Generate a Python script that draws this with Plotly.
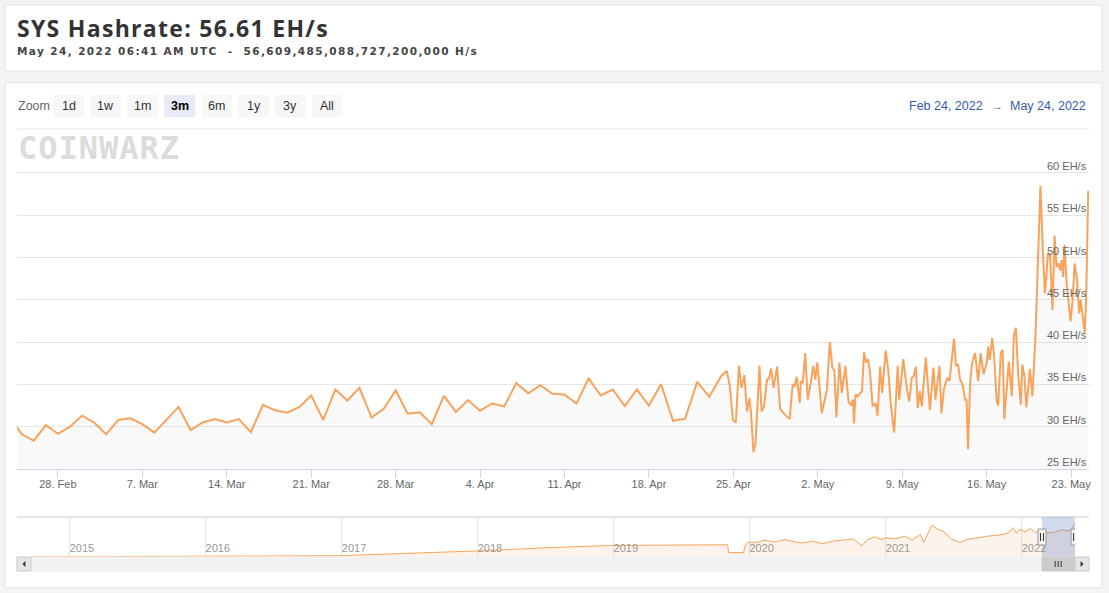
import pandas as pd
import plotly.graph_objects as go

W, H = 1109, 593

# daily hashrate (EH/s), Feb 24 - Apr 23 2022
daily_dates = pd.date_range("2022-02-24", "2022-04-23", freq="D").strftime("%Y-%m-%d").tolist()
daily_values = [31.2, 29.1, 28.35, 30.2, 29.15,
                30.0, 31.3, 30.5, 29.1, 30.8, 31.0, 30.3, 29.3, 30.85, 32.35, 29.6, 30.5, 30.9, 30.5,
                30.9, 29.35, 32.6, 31.95, 31.65, 32.3, 33.7, 30.8, 34.4, 33.1, 34.6, 31.1, 32.1, 34.3,
                31.55, 31.7, 30.3,
                33.65, 31.75, 33.15, 31.9, 32.75, 32.4, 35.15, 33.95, 34.9, 33.9, 33.8, 32.75, 35.7,
                33.7, 34.4, 32.45, 34.4, 32.5, 35.05, 30.7, 30.95, 35.3, 33.55]

# intraday hashrate (EH/s), Apr 24 - May 24 2022
intraday_dates = [
    "2022-04-24 00:00", "2022-04-24 11:00", "2022-04-24 17:00", "2022-04-24 23:00",
    "2022-04-25 05:00", "2022-04-25 11:00", "2022-04-25 16:00", "2022-04-25 22:00",
    "2022-04-26 03:00", "2022-04-26 08:00", "2022-04-26 11:00", "2022-04-26 16:00", "2022-04-26 20:00",
    "2022-04-27 04:00", "2022-04-27 08:00", "2022-04-27 13:00", "2022-04-27 19:00", "2022-04-27 23:00",
    "2022-04-28 03:00", "2022-04-28 08:00", "2022-04-28 15:00", "2022-04-28 21:00",
    "2022-04-29 07:00", "2022-04-29 16:00", "2022-04-29 22:00",
    "2022-04-30 02:00", "2022-04-30 06:00", "2022-04-30 12:00", "2022-04-30 14:00", "2022-04-30 18:00",
    "2022-04-30 23:00",
    "2022-05-01 04:00", "2022-05-01 10:00", "2022-05-01 15:00", "2022-05-01 19:00", "2022-05-01 23:00",
    "2022-05-02 08:00", "2022-05-02 18:00",
    "2022-05-03 00:00", "2022-05-03 05:00", "2022-05-03 09:00", "2022-05-03 13:00", "2022-05-03 19:00",
    "2022-05-04 00:00", "2022-05-04 07:00", "2022-05-04 13:00", "2022-05-04 18:00", "2022-05-04 22:00",
    "2022-05-05 00:00", "2022-05-05 03:00", "2022-05-05 07:00", "2022-05-05 16:00", "2022-05-05 20:00",
    "2022-05-06 00:00", "2022-05-06 04:00", "2022-05-06 08:00", "2022-05-06 13:00", "2022-05-06 19:00",
    "2022-05-06 23:00",
    "2022-05-07 04:00", "2022-05-07 08:00", "2022-05-07 15:00", "2022-05-07 20:00",
    "2022-05-08 01:00", "2022-05-08 08:00", "2022-05-08 15:00", "2022-05-08 18:00",
    "2022-05-09 02:00", "2022-05-09 09:00", "2022-05-09 14:00", "2022-05-09 19:00", "2022-05-09 23:00",
    "2022-05-10 03:00", "2022-05-10 07:00", "2022-05-10 11:00", "2022-05-10 15:00", "2022-05-10 23:00",
    "2022-05-11 07:00", "2022-05-11 14:00", "2022-05-11 18:00",
    "2022-05-12 02:00", "2022-05-12 06:00", "2022-05-12 11:00", "2022-05-12 18:00", "2022-05-12 22:00",
    "2022-05-13 02:00", "2022-05-13 07:00", "2022-05-13 11:00", "2022-05-13 15:00", "2022-05-13 19:00",
    "2022-05-14 00:00", "2022-05-14 05:00", "2022-05-14 08:00", "2022-05-14 11:00", "2022-05-14 15:00",
    "2022-05-14 19:00",
    "2022-05-15 01:00", "2022-05-15 07:00", "2022-05-15 12:00", "2022-05-15 18:00",
    "2022-05-16 00:00", "2022-05-16 03:00", "2022-05-16 06:00", "2022-05-16 11:00", "2022-05-16 15:00",
    "2022-05-16 20:00", "2022-05-16 23:00",
    "2022-05-17 04:00", "2022-05-17 08:00", "2022-05-17 11:00", "2022-05-17 16:00", "2022-05-17 20:00",
    "2022-05-18 02:00", "2022-05-18 06:00", "2022-05-18 10:00", "2022-05-18 15:00", "2022-05-18 20:00",
    "2022-05-18 23:00",
    "2022-05-19 03:00", "2022-05-19 07:00", "2022-05-19 14:00", "2022-05-19 19:00",
    "2022-05-20 01:00", "2022-05-20 06:00", "2022-05-20 11:00", "2022-05-20 16:00", "2022-05-20 20:00",
    "2022-05-21 02:00", "2022-05-21 06:00", "2022-05-21 11:00", "2022-05-21 15:00", "2022-05-21 19:00",
    "2022-05-21 23:00",
    "2022-05-22 02:00", "2022-05-22 05:00", "2022-05-22 08:00", "2022-05-22 11:00", "2022-05-22 15:00",
    "2022-05-22 19:00", "2022-05-22 23:00",
    "2022-05-23 03:00", "2022-05-23 07:00", "2022-05-23 12:00", "2022-05-23 16:00", "2022-05-23 19:00",
    "2022-05-23 23:00",
    "2022-05-24 03:00", "2022-05-24 06:00", "2022-05-24 10:00",
]
intraday_values = [
    36.0, 36.6, 34.8, 30.8,
    30.5, 37.2, 34.6, 36.1,
    31.8, 33.4, 31.7, 27.0, 28.0,
    37.2, 31.8, 32.4, 35.6, 35.7,
    36.9, 34.6, 37.1, 32.1,
    31.4, 30.9, 35.0,
    34.8, 35.9, 32.8, 35.3, 35.2, 38.7,
    33.2, 35.2, 37.2, 35.6, 37.6,
    31.6, 34.4,
    40.0, 37.0, 36.6, 31.1, 37.6,
    34.0, 37.2, 33.0, 32.5, 33.2,
    30.4, 33.8, 33.6, 34.2, 38.8,
    37.6, 38.0, 36.4, 32.4, 32.8, 31.3,
    37.1, 34.0, 39.0, 36.8,
    32.8, 29.3, 37.2, 33.2,
    38.0, 34.6, 33.0, 35.8, 36.0,
    37.1, 32.2, 34.2, 32.4, 38.2,
    32.0, 37.0, 33.2,
    37.2, 31.6, 34.5, 35.8, 35.4,
    37.4, 40.4, 37.2, 37.4, 35.6,
    35.0, 33.2, 33.2, 27.35, 35.2, 37.55,
    38.7, 35.4, 38.7, 36.2,
    37.55, 39.5, 37.9, 40.5, 38.3, 33.0, 32.5,
    38.7, 39.1, 30.9, 34.8, 37.7,
    33.6, 40.7, 41.7, 36.0, 32.6, 37.35,
    36.0, 32.3, 36.8, 33.6,
    40.7, 48.5, 58.5, 50.5, 45.8,
    50.5, 50.3, 43.8, 52.6, 48.9, 49.3,
    48.5, 49.7, 47.7, 51.5, 47.0, 45.0, 42.45,
    45.0, 49.3, 47.35, 43.4, 45.0, 43.0,
    41.1, 45.4, 57.9,
]

# navigator history (scaled as drawn in the navigator strip)
nav_dates = ["2014-09-19", "2016-12-25", "2018-01-01", "2018-07-17", "2019-01-01", "2019-11-03",
             "2019-11-06", "2019-12-16", "2019-12-21", "2019-12-29", "2020-01-21", "2020-02-09",
             "2020-03-08", "2020-04-05", "2020-04-23", "2020-05-21", "2020-06-18", "2020-07-15",
             "2020-08-12", "2020-09-09", "2020-10-06", "2020-10-29", "2020-11-12", "2020-12-05",
             "2020-12-19", "2021-01-01", "2021-01-25", "2021-02-22", "2021-03-12", "2021-04-04",
             "2021-04-13", "2021-04-27", "2021-05-06", "2021-05-20", "2021-06-03", "2021-06-26",
             "2021-07-19", "2021-08-07", "2021-09-03", "2021-10-01", "2021-10-28", "2021-11-25",
             "2021-12-09", "2021-12-18", "2021-12-27", "2022-01-10", "2022-01-24", "2022-02-07",
             "2022-02-16", "2022-02-25", "2022-03-25", "2022-04-21", "2022-05-10", "2022-05-24 10:00"]
nav_values = [0.3, 1.9, 9.1, 14.2, 17.4, 18.3,
              6.6, 6.6, 18.3, 22.0, 22.0, 25.2,
              22.5, 26.2, 23.6, 21.0, 23.6, 20.0,
              23.6, 25.2, 27.2, 16.9, 26.2, 30.3,
              26.2, 28.8, 27.2, 31.3, 25.2, 33.9,
              22.0, 39.1, 47.9, 41.7, 39.1, 27.2,
              22.0, 26.2, 28.8, 31.3, 32.4, 35.5,
              44.2, 35.5, 41.7, 37.5, 42.7, 36.5,
              39.1, 36.5, 36.5, 40.6, 39.1, 49.4]

y_ticks = [25, 30, 35, 40, 45, 50, 55, 60]
zoom_buttons = ["1d", "1w", "1m", "3m", "6m", "1y", "3y", "All"]
selected_button = "3m"
view_start, view_end = "2022-02-24 14:35", "2022-05-24 11:40"
nav_start = "2014-09-19"

LINE = "#f7a35c"
FONT = "Liberation Sans, Arial, sans-serif"


def px(x):
    return x / W


def py(y):
    return 1 - y / H


fig = go.Figure()
fig.add_trace(go.Scatter(
    x=daily_dates + intraday_dates, y=daily_values + intraday_values,
    mode="lines", line=dict(color=LINE, width=2), fill="tozeroy",
    fillcolor="rgba(0,0,0,0.025)", xaxis="x", yaxis="y", hoverinfo="skip"))
fig.add_trace(go.Scatter(
    x=nav_dates, y=nav_values, mode="lines", line=dict(color=LINE, width=1),
    fill="tozeroy", fillcolor="rgba(247,163,92,0.13)", xaxis="x2", yaxis="y2", hoverinfo="skip"))

# y axis goes a little past 60 so the top grid line stays visible
y_top = 60.6
fig.update_layout(
    width=W, height=H, margin=dict(l=0, r=0, t=0, b=0),
    paper_bgcolor="#f4f4f4", plot_bgcolor="rgba(0,0,0,0)",
    showlegend=False, hovermode=False, font=dict(family=FONT, color="#666666"),
    xaxis=dict(domain=[px(17), px(1091)], anchor="y", type="date",
               range=[view_start, view_end], tick0="2022-02-28", dtick=7 * 86400000,
               tickformat="%-d. %b", ticks="outside", ticklen=8, tickcolor="#ccd6eb",
               ticklabelstandoff=-3,
               showline=True, linecolor="#ccd6eb", showgrid=False, zeroline=False,
               tickfont=dict(size=11, color="#666666")),
    yaxis=dict(domain=[py(469), py(173 - (y_top - 60) * 8.46)], anchor="x", side="right",
               range=[25, y_top], tickvals=y_ticks, showticklabels=False,
               showgrid=True, gridcolor="#e6e6e6", zeroline=False, showline=False),
    xaxis2=dict(domain=[px(31), px(1077)], anchor="y2", type="date",
                range=[nav_start, "2022-05-24 10:00"], tick0="2015-01-01", dtick="M12",
                tickformat="%Y", ticklabelposition="inside right", ticks="",
                ticklabelstandoff=-3,
                showgrid=True, gridcolor="#e6e6e6", showline=False, zeroline=False,
                tickfont=dict(size=11, color="#999999")),
    yaxis2=dict(domain=[py(557), py(517)], anchor="x2", range=[0, 60], visible=False),
)

shapes = []
# cards
for y0, y1 in [(5, 71), (83, 588)]:
    shapes.append(dict(type="rect", xref="paper", yref="paper", x0=px(5), x1=px(1104),
                       y0=py(y1), y1=py(y0), fillcolor="white", line=dict(color="#e2e2e2", width=1),
                       layer="below"))
# separator under range selector
shapes.append(dict(type="line", xref="paper", yref="paper", x0=px(17), x1=px(1091),
                   y0=py(129), y1=py(129), line=dict(color="#e6e6e6", width=1)))
# zoom buttons
centers = [69, 106, 143, 180, 217, 254, 291, 328]
for lab, cx in zip(zoom_buttons, centers):
    shapes.append(dict(type="rect", xref="paper", yref="paper", x0=px(cx - 15.5), x1=px(cx + 15.5),
                       y0=py(117), y1=py(95), line=dict(width=0),
                       fillcolor="#e6ebf5" if lab == selected_button else "#f7f7f7"))
# navigator outline, mask and handles
shapes.append(dict(type="line", xref="paper", yref="paper", x0=px(17), x1=px(1091),
                   y0=py(517), y1=py(517), line=dict(color="#cccccc", width=1)))
shapes.append(dict(type="rect", xref="x2", yref="paper", x0=view_start, x1=view_end,
                   y0=py(557), y1=py(517), fillcolor="rgba(102,133,194,0.3)", line=dict(width=0)))
# scrollbar
shapes.append(dict(type="rect", xref="paper", yref="paper", x0=px(17), x1=px(1091),
                   y0=py(571), y1=py(557), fillcolor="#f2f2f2", line=dict(color="#f2f2f2", width=1)))
for bx in (17, 1077):
    shapes.append(dict(type="rect", xref="paper", yref="paper", x0=px(bx), x1=px(bx + 14),
                       y0=py(571), y1=py(557), fillcolor="#e6e6e6", line=dict(color="#cccccc", width=1)))
shapes.append(dict(type="path", xref="paper", yref="paper", fillcolor="#333333", line=dict(width=0),
                   path=f"M {px(22.5)} {py(564)} L {px(25.5)} {py(561)} L {px(25.5)} {py(567)} Z"))
shapes.append(dict(type="path", xref="paper", yref="paper", fillcolor="#333333", line=dict(width=0),
                   path=f"M {px(1085.5)} {py(564)} L {px(1082.5)} {py(561)} L {px(1082.5)} {py(567)} Z"))
shapes.append(dict(type="rect", xref="x2", yref="paper", x0=view_start, x1=view_end,
                   y0=py(571), y1=py(557), fillcolor="#cccccc", line=dict(color="#cccccc", width=1)))
mid = "2022-04-09"
for dx in (-3, 0, 3):
    shapes.append(dict(type="line", xref="x2", yref="paper", xsizemode="pixel", xanchor=mid,
                       x0=dx, x1=dx, y0=py(567), y1=py(561), line=dict(color="#333333", width=1)))
for edge in (view_start, view_end):
    shapes.append(dict(type="rect", xref="x2", yref="paper", xsizemode="pixel", xanchor=edge,
                       x0=-4, x1=4, y0=py(545), y1=py(529), fillcolor="#f2f2f2",
                       line=dict(color="#999999", width=1)))
    for dx in (-1.5, 1.5):
        shapes.append(dict(type="line", xref="x2", yref="paper", xsizemode="pixel", xanchor=edge,
                           x0=dx, x1=dx, y0=py(541), y1=py(533), line=dict(color="#333333", width=1)))
fig.update_layout(shapes=shapes)

ann = [
    dict(x=px(15), y=py(28), xanchor="left", yanchor="middle",
         text='<span style="letter-spacing:1.3px"><b>SYS Hashrate: 56.61 EH/s</b></span>',
         font=dict(family="Open Sans, sans-serif", size=23, color="#333333")),
    dict(x=px(15), y=py(51), xanchor="left", yanchor="middle",
         text='<span style="letter-spacing:1.4px"><b>May 24, 2022 06:41 AM UTC  -  '
              '56,609,485,088,727,200,000 H/s</b></span>',
         font=dict(family="DejaVu Sans, sans-serif", size=10.5, color="#444444")),
    dict(x=px(16), y=py(106), text="Zoom", xanchor="left", yanchor="middle",
         font=dict(size=12.5, color="#666666")),
    dict(x=px(948), y=py(106), text="Feb 24, 2022", xanchor="center", yanchor="middle",
         font=dict(size=12.5, color="#335cad")),
    dict(x=px(999), y=py(106), text="→", xanchor="center", yanchor="middle",
         font=dict(size=11, color="#666666")),
    dict(x=px(1050), y=py(106), text="May 24, 2022", xanchor="center", yanchor="middle",
         font=dict(size=12.5, color="#335cad")),
    dict(x=px(16), y=py(148), xanchor="left", yanchor="middle",
         text='<span style="letter-spacing:1px"><b>COINWARZ</b></span>',
         font=dict(family="DejaVu Sans Mono, monospace", size=32, color="#dcdcdc")),
]
for lab, cx in zip(zoom_buttons, centers):
    sel = lab == selected_button
    ann.append(dict(x=px(cx), y=py(106), text=f"<b>{lab}</b>" if sel else lab, xanchor="center",
                    yanchor="middle", font=dict(size=12.5, color="#000000" if sel else "#333333")))
for a in ann:
    a.update(xref="paper", yref="paper", showarrow=False)
# y axis labels sit inside the plot, right-aligned just above their grid lines
for v in y_ticks:
    ann.append(dict(x=px(1091), xref="paper", y=v, yref="y", text=f"{v} EH/s", showarrow=False,
                    xanchor="right", yanchor="bottom", yshift=-1,
                    font=dict(size=11, color="#666666")))
fig.update_layout(annotations=ann)

fig.write_html("out.html", config={"displayModeBar": False},
               post_script="document.body.style.margin='0';")
